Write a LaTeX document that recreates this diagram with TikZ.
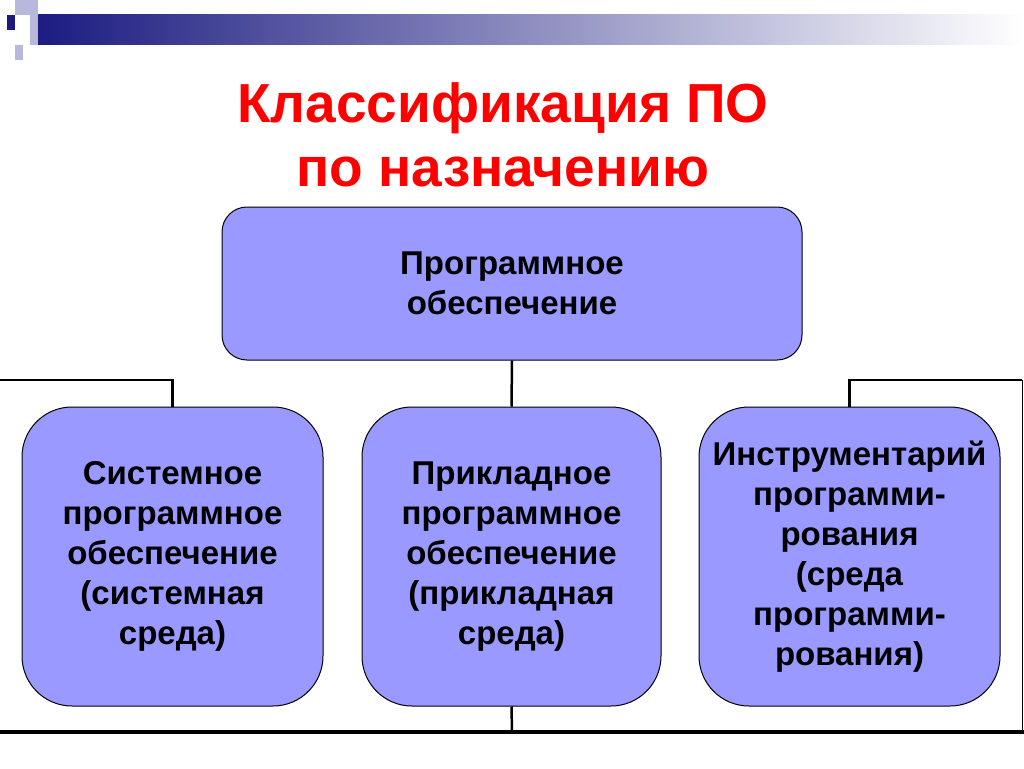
\documentclass[tikz,border=0pt]{standalone}
\usepackage{fontspec}
\setmainfont{Liberation Sans}
\definecolor{boxc}{HTML}{9999FF}
\definecolor{navy}{HTML}{1A1A80}
\definecolor{lav}{HTML}{B8B8DC}
\tikzset{
  blk/.style={draw=black, line width=1pt, fill=boxc, rounded corners=50pt, align=center, font=\bfseries\fontsize{33pt}{40pt}\selectfont, inner sep=0pt},
  conn/.style={line width=2.5pt, black}
}
\begin{document}
\begin{tikzpicture}[x=1pt,y=-1pt]
\useasboundingbox (0,0) rectangle (1024,768);
% header bar
\shade[left color=navy, right color=white] (30,15) rectangle (1024,45);
\fill[lav] (15,0) rectangle (38,30);
\fill[lav] (30,30) rectangle (38,45);
\fill[lav] (15,45) rectangle (23,60);
\fill[white] (15,15) rectangle (30,30);
\fill[navy] (7,15) rectangle (15,30);
% title
\node[text=red, font=\bfseries\fontsize{55pt}{64pt}\selectfont, align=center] (title) at (503,135) {Классификация ПО\\ по назначению};
% boxes
\node[blk, minimum width=580, minimum height=153, rounded corners=25pt] (top) at (512,283.5) {Программное\\обеспечение};
\node[blk, minimum width=301, minimum height=299] (sys) at (172.5,556.5) {Системное\\программное\\обеспечение\\(системная\\среда)};
\node[blk, minimum width=299, minimum height=299] (app) at (511.5,556.5) {Прикладное\\программное\\обеспечение\\(прикладная\\среда)};
\node[blk, minimum width=301, minimum height=299] (ins) at (849.5,556.5) {Инструментарий\\программи-\\рования\\(среда\\программи-\\рования)};
% connectors
\coordinate (lend) at (0,380);
\coordinate (rend) at (1022,380);
\coordinate (bl) at (0,732);
\coordinate (br) at (1024,732);
\coordinate (bm) at (512,732);
\draw[conn] (top.south) -- (app.north);
\draw[conn] (lend) -| (sys.north);
\draw[conn] (rend) -| (ins.north);
\draw[line width=1pt] (rend) -- (1022,732);
\draw[conn] (app.south) -- (bm);
\draw[line width=4pt] (bl) -- (br);
\end{tikzpicture}
\end{document}
